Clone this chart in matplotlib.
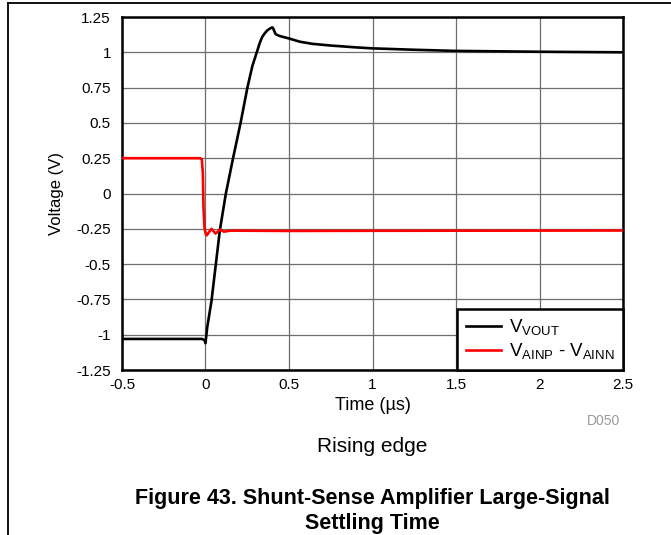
import matplotlib
matplotlib.use("Agg")
import matplotlib.pyplot as plt
from matplotlib.lines import Line2D

plt.rcParams["font.family"] = ["Liberation Sans", "DejaVu Sans"]
plt.rcParams["mathtext.fontset"] = "custom"
plt.rcParams["mathtext.rm"] = "Liberation Sans"
plt.rcParams["axes.unicode_minus"] = False

# V_VOUT trace (time in us, volts)
vout_t = [-0.5, -0.3, -0.1, -0.02, -0.005, 0.0, 0.01, 0.036, 0.086, 0.122,
          0.165, 0.21, 0.251, 0.28, 0.307, 0.326, 0.34, 0.355, 0.37, 0.385, 0.40, 0.405,
          0.42, 0.445, 0.5, 0.565, 0.64, 0.75, 0.9, 1.0, 1.25, 1.5, 2.0, 2.5]
vout_v = [-1.03, -1.03, -1.03, -1.03, -1.04, -1.06, -0.95, -0.76, -0.26, 0.0,
          0.25, 0.5, 0.75, 0.9, 1.0, 1.07, 1.11, 1.135, 1.155, 1.168, 1.177, 1.17,
          1.128, 1.115, 1.098, 1.075, 1.06, 1.048, 1.035, 1.028, 1.018, 1.01, 1.004, 1.0]

# V_AINP - V_AINN trace
ain_t = [-0.5, -0.03, -0.022, -0.016, -0.012, -0.006, 0.0, 0.008, 0.02, 0.036,
         0.06, 0.086, 0.11, 0.15, 0.5, 1.0, 2.5]
ain_v = [0.25, 0.25, 0.24, 0.15, -0.1, -0.24, -0.28, -0.296, -0.275, -0.25,
         -0.284, -0.256, -0.27, -0.263, -0.265, -0.264, -0.262]

xticks = [-0.5, 0, 0.5, 1, 1.5, 2, 2.5]
xlabels = ["-0.5", "0", "0.5", "1", "1.5", "2", "2.5"]
yticks = [-1.25, -1, -0.75, -0.5, -0.25, 0, 0.25, 0.5, 0.75, 1, 1.25]
ylabels = ["-1.25", "-1", "-0.75", "-0.5", "-0.25", "0", "0.25", "0.5", "0.75", "1", "1.25"]

fig = plt.figure(figsize=(6.71, 5.35), dpi=100)
ax = fig.add_axes([0.1818, 0.3084, 0.9285 - 0.1818, 0.9682 - 0.3084])

ax.plot(vout_t, vout_v, color="black", lw=1.9, label=r"V$_{\mathrm{VOUT}}$",
        zorder=3, solid_joinstyle="round")
ax.plot(ain_t, ain_v, color="#ff0000", lw=1.9,
        label=r"V$_{\mathrm{AINP}}$ - V$_{\mathrm{AINN}}$", zorder=3,
        solid_joinstyle="round")

ax.set_xlim(-0.5, 2.5)
ax.set_ylim(-1.25, 1.25)
ax.set_xticks(xticks)
ax.set_xticklabels(xlabels)
ax.set_yticks(yticks)
ax.set_yticklabels(ylabels)
ax.tick_params(length=0, labelsize=11)
ax.tick_params(axis="x", pad=6)
ax.tick_params(axis="y", pad=8)
ax.grid(True, color="#6e6e6e", lw=0.9)
ax.set_axisbelow(True)
for s in ax.spines.values():
    s.set_linewidth(1.8)
    s.set_color("black")

ax.set_xlabel("Time (\u00b5s)", fontsize=13, labelpad=3)
ax.set_ylabel("Voltage (V)", fontsize=12, labelpad=9)

leg = ax.legend(loc="lower right", borderaxespad=0, fancybox=False,
                edgecolor="black", framealpha=1, fontsize=13.5,
                handlelength=1.9, handletextpad=0.4, borderpad=0.45,
                labelspacing=0.2)
leg.get_frame().set_linewidth(1.8)

fig.text(0.924, 0.213, "D050", ha="right", va="center", fontsize=10, color="#9a9a9a")
fig.text(0.555, 0.166, "Rising edge", ha="center", va="center", fontsize=15)
fig.text(0.555, 0.069, "Figure 43. Shunt-Sense Amplifier Large-Signal",
         ha="center", va="center", fontsize=15.5, fontweight="bold")
fig.text(0.555, 0.022, "Settling Time", ha="center", va="center",
         fontsize=15.5, fontweight="bold")

# page frame lines (top and left)
fig.add_artist(Line2D([8 / 671, 1], [1 - 3 / 535, 1 - 3 / 535], color="black", lw=1.3))
fig.add_artist(Line2D([8 / 671, 8 / 671], [0, 1 - 3 / 535], color="black", lw=1.3))

fig.savefig("out.png", dpi=100)
